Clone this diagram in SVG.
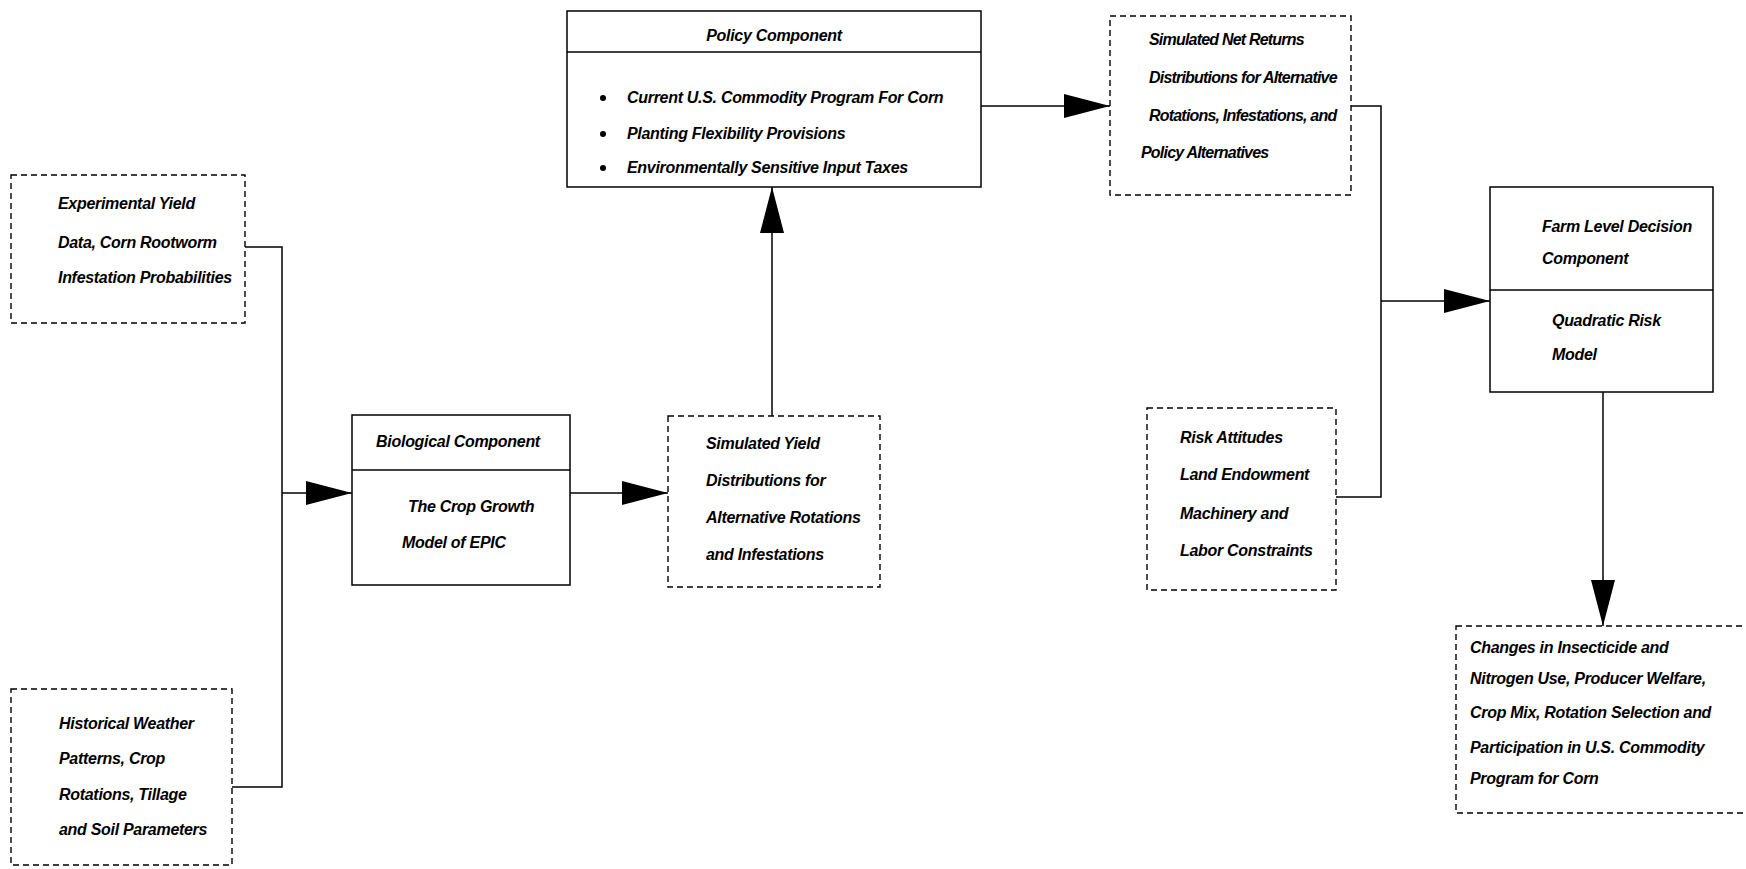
<svg xmlns="http://www.w3.org/2000/svg" width="1746" height="869" viewBox="0 0 1746 869">
<style>
.box{fill:#fff;stroke:#000;stroke-width:1.5}
.dbox{fill:#fff;stroke:#000;stroke-width:1.4;stroke-dasharray:6 4}
.div{stroke:#000;stroke-width:1.5}
.con{fill:none;stroke:#000;stroke-width:1.5}
text{font-family:"Liberation Sans",Arial,sans-serif;font-size:16px;font-weight:bold;font-style:italic;fill:#000;letter-spacing:-0.3px}
.tight{letter-spacing:-0.8px}
</style>
<defs>
<marker id="ah" viewBox="0 0 46 24" refX="46" refY="12" markerWidth="46" markerHeight="24" markerUnits="userSpaceOnUse" orient="auto">
<path d="M0,0 L46,12 L0,24 z" fill="#000"/>
</marker>
</defs>
<rect width="1746" height="869" fill="#fff"/>
<g id="connectors">
<path class="con" d="M245,247 H282 V787 H232"/>
<path class="con" d="M282,493 H352" marker-end="url(#ah)"/>
<path class="con" d="M570,493 H668" marker-end="url(#ah)"/>
<path class="con" d="M772,416 V187" marker-end="url(#ah)"/>
<path class="con" d="M981,106 H1110" marker-end="url(#ah)"/>
<path class="con" d="M1351,106 H1381 V497 H1336"/>
<path class="con" d="M1381,301 H1490" marker-end="url(#ah)"/>
<path class="con" d="M1603,392 V626" marker-end="url(#ah)"/>
</g>
<g id="experimental">
<rect class="dbox" x="11" y="175" width="234" height="148"/>
<text x="58" y="209">Experimental Yield</text>
<text x="58" y="248">Data, Corn Rootworm</text>
<text x="58" y="283">Infestation Probabilities</text>
</g>
<g id="historical">
<rect class="dbox" x="11" y="689" width="221" height="176"/>
<text x="59" y="729">Historical Weather</text>
<text x="59" y="764">Patterns, Crop</text>
<text x="59" y="800">Rotations, Tillage</text>
<text x="59" y="835">and Soil Parameters</text>
</g>
<g id="biological">
<rect class="box" x="352" y="415" width="218" height="170"/>
<line class="div" x1="352" y1="470" x2="570" y2="470"/>
<text x="458" y="447" text-anchor="middle">Biological Component</text>
<text x="408" y="512">The Crop Growth</text>
<text x="402" y="548">Model of EPIC</text>
</g>
<g id="yield">
<rect class="dbox" x="668" y="416" width="212" height="171"/>
<text x="706" y="449">Simulated Yield</text>
<text x="706" y="486">Distributions for</text>
<text x="706" y="523">Alternative Rotations</text>
<text x="706" y="560">and Infestations</text>
</g>
<g id="policy">
<rect class="box" x="567" y="11" width="414" height="176"/>
<line class="div" x1="567" y1="52" x2="981" y2="52"/>
<text x="774" y="41" text-anchor="middle">Policy Component</text>
<circle cx="603" cy="98" r="3"/>
<text x="627" y="103">Current U.S. Commodity Program For Corn</text>
<circle cx="603" cy="134" r="3"/>
<text x="627" y="139">Planting Flexibility Provisions</text>
<circle cx="603" cy="168" r="3"/>
<text x="627" y="173">Environmentally Sensitive Input Taxes</text>
</g>
<g id="netreturns">
<rect class="dbox" x="1110" y="16" width="241" height="179"/>
<text class="tight" x="1149" y="45">Simulated Net Returns</text>
<text class="tight" x="1149" y="83">Distributions for Alternative</text>
<text class="tight" x="1149" y="121">Rotations, Infestations, and</text>
<text class="tight" x="1141" y="158">Policy Alternatives</text>
</g>
<g id="farm">
<rect class="box" x="1490" y="187" width="223" height="205"/>
<line class="div" x1="1490" y1="290" x2="1713" y2="290"/>
<text x="1542" y="232">Farm Level Decision</text>
<text x="1542" y="264">Component</text>
<text x="1552" y="326">Quadratic Risk</text>
<text x="1552" y="360">Model</text>
</g>
<g id="risk">
<rect class="dbox" x="1147" y="408" width="189" height="182"/>
<text x="1180" y="443">Risk Attitudes</text>
<text x="1180" y="480">Land Endowment</text>
<text x="1180" y="519">Machinery and</text>
<text x="1180" y="556">Labor Constraints</text>
</g>
<g id="changes">
<rect class="dbox" x="1456" y="626" width="310" height="187"/>
<text x="1470" y="653">Changes in Insecticide and</text>
<text x="1470" y="684">Nitrogen Use, Producer Welfare,</text>
<text x="1470" y="718">Crop Mix, Rotation Selection and</text>
<text x="1470" y="753">Participation in U.S. Commodity</text>
<text x="1470" y="784">Program for Corn</text>
</g>
</svg>
